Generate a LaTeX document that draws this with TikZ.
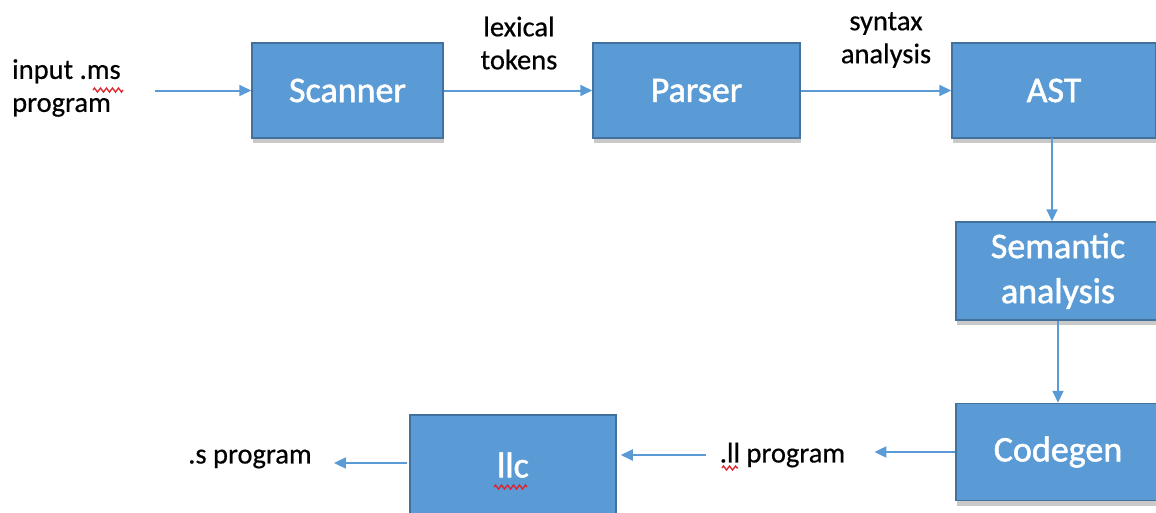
\documentclass[tikz,border=0pt]{standalone}
\usepackage{fontspec}
\setmainfont{Carlito}
\newfontfamily\boxfont[FakeBold=1.4]{Carlito}
\newfontfamily\lblfont[FakeBold=0.5]{Carlito}
\usetikzlibrary{arrows.meta,shadows,decorations.pathmorphing}
\definecolor{boxfill}{HTML}{5B9BD5}
\definecolor{boxline}{HTML}{41719C}
\definecolor{arrowc}{HTML}{5B9BD5}
\definecolor{squig}{HTML}{E0202A}
\tikzset{
  stagebox/.style={rectangle, draw=boxline, line width=1.5pt, fill=boxfill,
    text=white, align=center, inner sep=0pt,
    font=\boxfont\fontsize{36}{45}\selectfont,
    drop shadow={shadow xshift=1pt, shadow yshift=-5pt, opacity=0.3, fill=black!70}},
  lbl/.style={align=left, inner sep=0pt, text=black, font=\lblfont\fontsize{28.5}{33}\selectfont},
  flow/.style={draw=arrowc, line width=2pt, -{Triangle[length=12pt,width=11pt]}},
  spell/.style={draw=squig, line width=1.3pt, decorate,
    decoration={zigzag, amplitude=2pt, segment length=6pt}}
}
\begin{document}
\begin{tikzpicture}[x=1pt,y=-1pt]
\useasboundingbox (0,0) rectangle (1156,512);
\begin{scope}
\clip (0,0) rectangle (1156,512);
\node[stagebox, minimum width=191pt, minimum height=95pt] (scanner) at (347.5,90.5) {Scanner};
\node[stagebox, minimum width=207pt, minimum height=95pt] (parser) at (696.5,90.5) {Parser};
\node[stagebox, minimum width=204pt, minimum height=95pt] (ast) at (1054,90.5) {AST};
\node[stagebox, minimum width=204pt, minimum height=98pt] (sem) at (1058,271) {Semantic\\analysis};
\node[stagebox, minimum width=204pt, minimum height=97pt] (codegen) at (1058,452) {Codegen};
\node[stagebox, minimum width=206pt, minimum height=100pt] (llc) at (513,465) {llc};
\end{scope}

\node[lbl, anchor=west] (inp) at (12,88) {input .ms\\program};
\node[lbl, align=center] (lex) at (519,43) {lexical\\tokens};
\node[lbl, align=center] (syn) at (886,40) {syntax\\analysis};
\node[lbl] (ll) at (782.5,455) {.ll program};
\node[lbl] (sprog) at (250,459) {.s program};

\coordinate (start) at (155,90.5);
\draw[flow] (start) -- (scanner.west);
\draw[flow] (scanner.east) -- (parser.west);
\draw[flow] (parser.east) -- (ast.west);
\draw[flow] (1052,138) coordinate (astout) -- (astout |- sem.north);
\draw[flow] (sem.south) -- (codegen.north);
\draw[flow, shorten >=29pt] (codegen.west) -- (codegen.west -| ll.east);
\draw[flow, shorten <=14pt, shorten >=4pt] (ll.west) -- (ll.west -| llc.east);
\draw[flow, shorten <=2pt, shorten >=22pt] (llc.west |- 0,463) coordinate (llcout) -- (llcout -| sprog.east);

% spell-check underlines
\draw[spell] (93,90) -- (123,90);
\draw[spell] (722,468) -- (738,468);
\draw[spell] (494,487) -- (527,487);
\end{tikzpicture}
\end{document}
